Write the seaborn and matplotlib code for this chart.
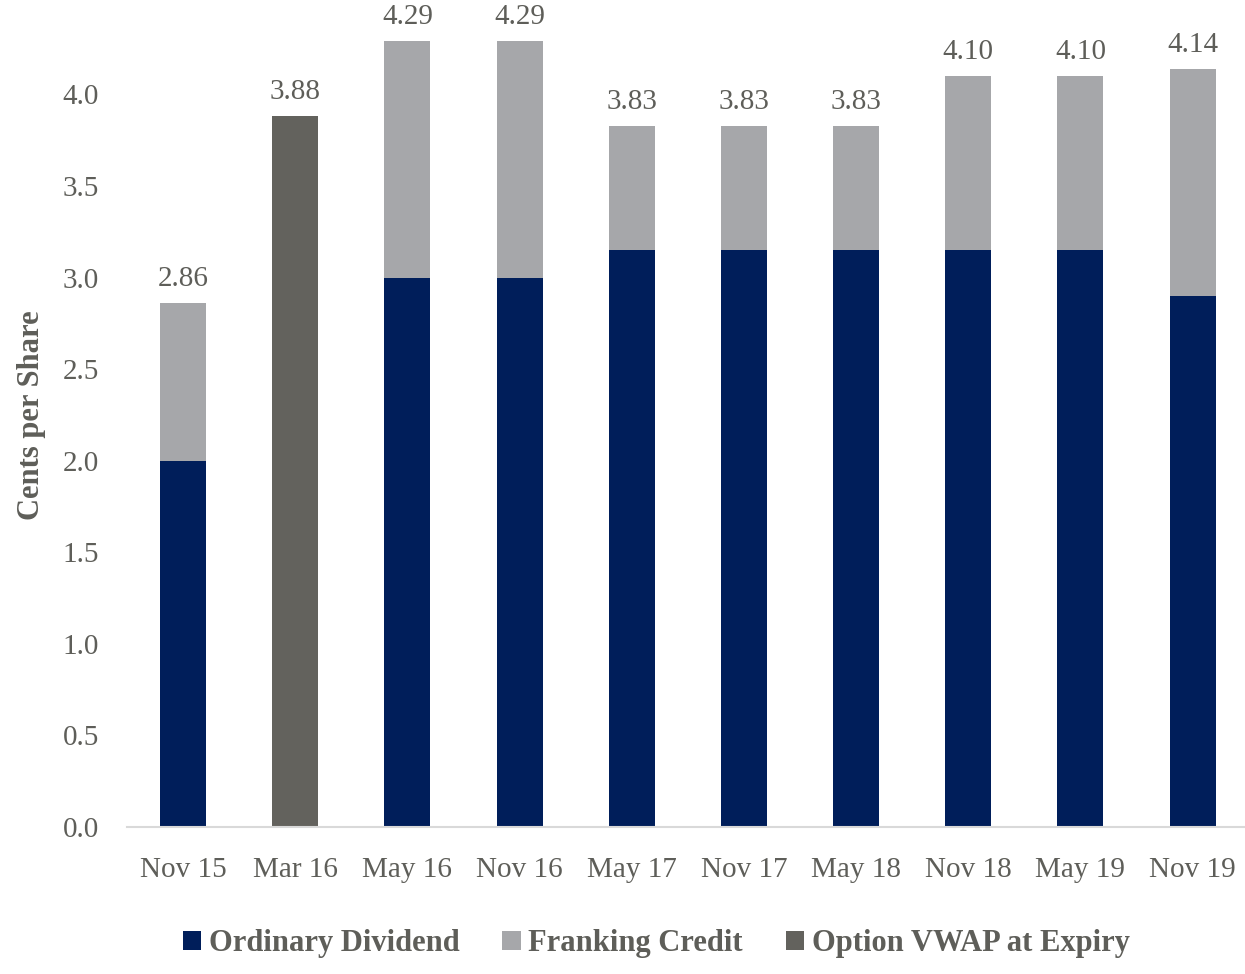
import numpy as np
import pandas as pd
import matplotlib
matplotlib.use("Agg")
import matplotlib.pyplot as plt
import seaborn as sns
from matplotlib.patches import Patch

categories = ["Nov 15", "Mar 16", "May 16", "Nov 16", "May 17", "Nov 17",
              "May 18", "Nov 18", "May 19", "Nov 19"]
ordinary = [2.00, 0, 3.00, 3.00, 3.15, 3.15, 3.15, 3.15, 3.15, 2.90]
franking = [0.86, 0, 1.29, 1.29, 0.68, 0.68, 0.68, 0.95, 0.95, 1.24]
option_vwap = [0, 3.88, 0, 0, 0, 0, 0, 0, 0, 0]
series_names = ["Ordinary Dividend", "Franking Credit", "Option VWAP at Expiry"]

NAVY = "#001E5A"
LIGHT = "#A6A7AA"
DARK = "#63625D"
TEXT = "#5E5E59"

sns.set_theme(style="white")
plt.rcParams["font.family"] = ["Liberation Serif", "DejaVu Serif"]

df = pd.DataFrame({
    "cat": categories,
    "ordinary": ordinary,
    "franking": franking,
    "option": option_vwap,
})
df["total"] = df["ordinary"] + df["franking"]

fig = plt.figure(figsize=(12.45, 9.74), dpi=100)
ax = fig.add_axes([0.102, 0.151, 0.901, 0.846])

w = 0.41
for col, c in (("total", LIGHT), ("ordinary", NAVY), ("option", DARK)):
    sns.barplot(data=df, x="cat", y=col, order=categories, color=c,
                width=w, saturation=1, ax=ax, errorbar=None, linewidth=0)

for i, row in df.iterrows():
    v = row["total"] + row["option"]
    ax.text(i, v + 0.06, f"{v:.2f}", ha="center", va="bottom",
            fontsize=21, color=TEXT)

ax.set_ylim(0, 4.5)
ax.set_xlim(-0.5, 9.5)
ax.set_yticks(np.arange(0, 4.01, 0.5))
ax.set_yticklabels([f"{t:.1f}" for t in np.arange(0, 4.01, 0.5)])
ax.tick_params(axis="both", length=0, labelsize=21, colors=TEXT)
ax.tick_params(axis="x", pad=22)
ax.tick_params(axis="y", pad=20)
ax.set_xlabel("")
ax.set_ylabel("Cents per Share", fontsize=22, fontweight="bold", color=TEXT,
              labelpad=12)
for s in ["top", "right", "left"]:
    ax.spines[s].set_visible(False)
ax.spines["bottom"].set_color("#D9D9D9")
ax.spines["bottom"].set_linewidth(1.5)

handles = [Patch(facecolor=c, edgecolor="none") for c in (NAVY, LIGHT, DARK)]
leg = fig.legend(handles, series_names, loc="lower center",
                 bbox_to_anchor=(0.527, -0.012), ncol=3, frameon=False,
                 prop={"size": 22, "weight": "bold"}, handlelength=0.6,
                 handleheight=0.6, handletextpad=0.25, columnspacing=1.4)
for t in leg.get_texts():
    t.set_color(TEXT)

fig.savefig("out.png", dpi=100)
